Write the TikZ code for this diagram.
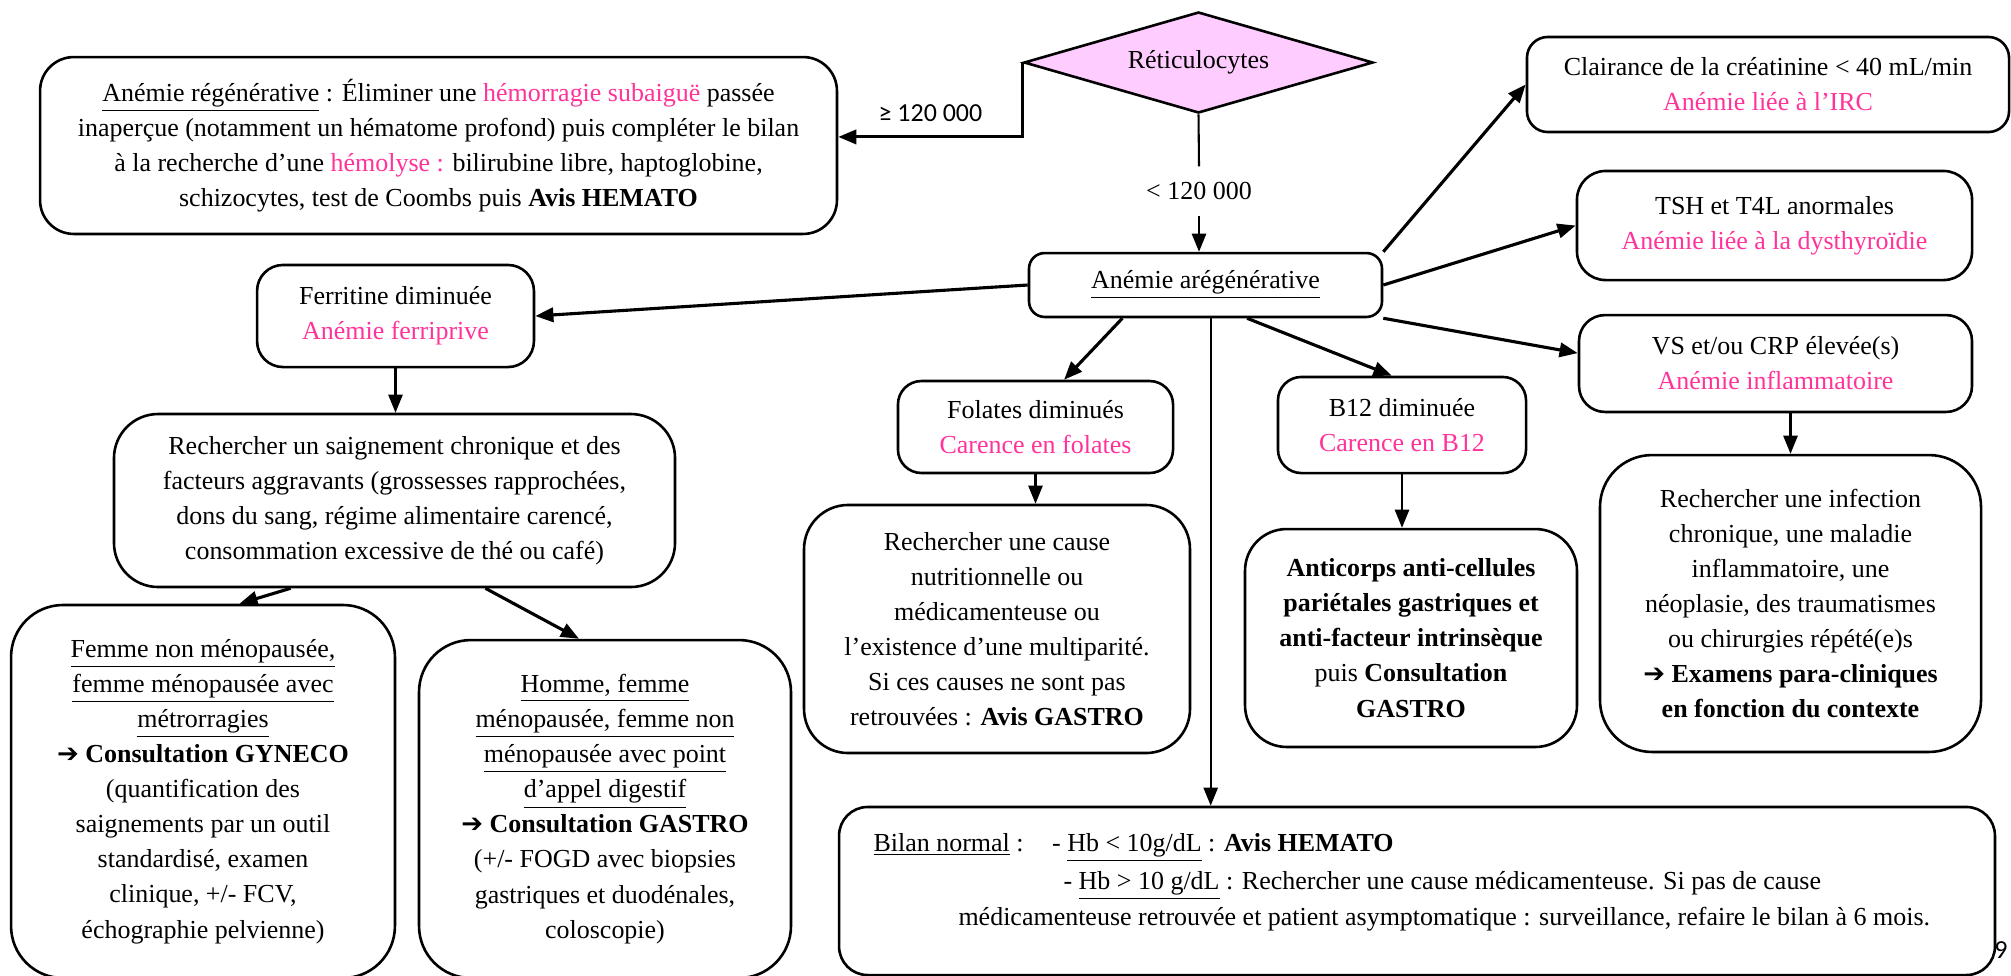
\documentclass[tikz,border=0pt]{standalone}
\usepackage{fontspec}
\setmainfont{Liberation Serif}
\newfontfamily\calibri{Carlito}
\newfontfamily\symboles{DejaVu Sans}
\usepackage{xcolor}
\usepackage{tikz}
\usetikzlibrary{arrows.meta,shapes.geometric}
\definecolor{rose}{RGB}{255,51,153}
\definecolor{mauve}{RGB}{255,204,255}
\newcommand{\rose}[1]{\textcolor{rose}{#1}}
\newcommand{\fl}{{\symboles\bfseries ➔}}

\begin{document}
\begin{tikzpicture}
[
x=0.385pt, y=-0.385pt,
font=\fontsize{10}{13.5}\selectfont,
boite/.style={rectangle, draw=black, line width=1pt, align=center, inner sep=2pt},
losange/.style={diamond, draw=black, line width=1pt, fill=mauve, aspect=3.4, inner sep=1pt},
fleche/.style={-{Triangle[length=7pt,width=5.5pt]}, line width=1.2pt},
flechefine/.style={-{Triangle[length=7pt,width=5.5pt]}, line width=0.8pt},
trait/.style={line width=0.8pt}
]
\useasboundingbox (0,0) rectangle (2011,975);

%Nodes
\node[losange, minimum width=134.4pt, minimum height=38.9pt] (reti) at (1198.5,62.5) {Réticulocytes};
\node[inner sep=0pt, minimum height=18.5pt] (seuilBas) at (1199,191) {< 120 000};
\node[boite, rounded corners=13pt, minimum width=306.8pt, minimum height=68.1pt] (regen) at (438.5,145.5)
  {\underline{Anémie régénérative} : Éliminer une \rose{hémorragie subaiguë} passée\\
   inaperçue (notamment un hématome profond) puis compléter le bilan\\
   à la recherche d’une \rose{hémolyse :} bilirubine libre, haptoglobine,\\
   schizocytes, test de Coombs puis \textbf{Avis HEMATO}};
\node[boite, rounded corners=6pt, minimum width=135.9pt, minimum height=24.6pt] (arege) at (1205.5,285) {\underline{Anémie arégénérative}};

\node[boite, rounded corners=8pt, minimum width=185.6pt, minimum height=36.6pt] (irc) at (1768,84.5)
  {Clairance de la créatinine < 40 mL/min\\ \rose{Anémie liée à l’IRC}};
\node[boite, rounded corners=11pt, minimum width=152.1pt, minimum height=42pt] (tsh) at (1774.5,225.5)
  {TSH et T4L anormales\\ \rose{Anémie liée à la dysthyroïdie}};
\node[boite, rounded corners=10pt, minimum width=151.3pt, minimum height=37.3pt] (vs) at (1775.5,363.5)
  {VS et/ou CRP élevée(s)\\ \rose{Anémie inflammatoire}};
\node[boite, rounded corners=20pt, minimum width=146.7pt, minimum height=114.3pt] (vsrech) at (1790.5,603.5)
  {Rechercher une infection\\ chronique, une maladie\\ inflammatoire, une\\ néoplasie, des traumatismes\\
   ou chirurgies répété(e)s\\ \fl\ \textbf{Examens para-cliniques}\\ \textbf{en fonction du contexte}};

\node[boite, rounded corners=10pt, minimum width=106.6pt, minimum height=39.3pt] (ferritine) at (395.5,316)
  {Ferritine diminuée\\ \rose{Anémie ferriprive}};
\node[boite, rounded corners=17pt, minimum width=216pt, minimum height=66.6pt] (saign) at (394.5,500.5)
  {Rechercher un saignement chronique et des\\ facteurs aggravants (grossesses rapprochées,\\
   dons du sang, régime alimentaire carencé,\\ consommation excessive de thé ou café)};
\node[boite, rounded corners=20pt, minimum width=147.8pt, minimum height=143.6pt] (femme) at (203,791.5)
  {\underline{Femme non ménopausée,}\\ \underline{femme ménopausée avec}\\ \underline{métrorragies}\\
   \fl\ \textbf{Consultation GYNECO}\\ (quantification des\\ saignements par un outil\\
   standardisé, examen\\ clinique, +/- FCV,\\ échographie pelvienne)};
\node[boite, rounded corners=20pt, minimum width=143.2pt, minimum height=130.1pt] (homme) at (605,809)
  {\underline{Homme, femme}\\ \underline{ménopausée, femme non}\\ \underline{ménopausée avec point}\\
   \underline{d’appel digestif}\\ \fl\ \textbf{Consultation GASTRO}\\ (+/- FOGD avec biopsies\\
   gastriques et duodénales,\\ coloscopie)};

\node[boite, rounded corners=9pt, minimum width=105.9pt, minimum height=35.4pt] (folates) at (1035.5,427)
  {Folates diminués\\ \rose{Carence en folates}};
\node[boite, rounded corners=17pt, minimum width=148.6pt, minimum height=95.5pt] (folrech) at (997,629)
  {Rechercher une cause\\ nutritionnelle ou\\ médicamenteuse ou\\ l’existence d’une multiparité.\\
   Si ces causes ne sont pas\\ retrouvées : \textbf{Avis GASTRO}};
\node[boite, rounded corners=9pt, minimum width=95.5pt, minimum height=37pt] (b12) at (1402,425)
  {B12 diminuée\\ \rose{Carence en B12}};
\node[boite, rounded corners=16pt, minimum width=127.8pt, minimum height=83.9pt] (anticorps) at (1411,638)
  {\textbf{Anticorps anti-cellules}\\ \textbf{pariétales gastriques et}\\ \textbf{anti-facteur intrinsèque}\\
   puis \textbf{Consultation}\\ \textbf{GASTRO}};

\node[boite, rounded corners=11pt, minimum width=445pt, minimum height=64.7pt] (bilan) at (1417,891) {};
\node[anchor=base west, inner sep=0pt] (bilanA) at (873,851)
  {\underline{Bilan normal}\ :\hspace{1.1em}- \underline{Hb < 10g/dL} : \textbf{Avis HEMATO}};
\node[anchor=base west, inner sep=0pt] (bilanB) at (1063,889)
  {- \underline{Hb > 10 g/dL} : Rechercher une cause médicamenteuse. Si pas de cause};
\node[anchor=base west, inner sep=0pt] (bilanC) at (958,925)
  {médicamenteuse retrouvée et patient asymptomatique : surveillance, refaire le bilan à 6 mois.};
\node[font=\calibri\fontsize{10}{12}\selectfont, inner sep=0pt] (page) at (2001,950) {9};

%Lines
\draw[fleche] (reti.west) |- node[pos=0.75, above=2pt, font=\calibri\fontsize{10}{12}\selectfont] (seuilHaut) {≥ 120 000} ([yshift=3.3pt]regen.east);
\draw[trait] (reti.south) -- (seuilBas.north);
\draw[flechefine] (seuilBas.south) -- (seuilBas.south |- arege.north);

\path[fleche]
(arege.north east)          edge (irc.west)
(arege.east)                edge (tsh.west)
(arege.south east)          edge ([yshift=4pt]vs.west)
([xshift=16pt]arege.south)  edge ([xshift=-4pt]b12.north)
([xshift=-32pt]arege.south) edge ([xshift=11pt]folates.north)
(arege.west)                edge (ferritine.east)
([xshift=-40pt]saign.south) edge ([xshift=14pt]femme.north)
([xshift=35pt]saign.south)  edge ([xshift=-10pt]homme.north);

\coordinate (pied) at ([xshift=2pt]arege.south);
\draw[flechefine] (pied) -- (pied |- bilan.north);
\draw[flechefine] (ferritine.south) -- (ferritine.south |- saign.north);
\draw[flechefine] (folates.south) -- (folates.south |- folrech.north);
\draw[flechefine] (b12.south) -- (b12.south |- anticorps.north);
\draw[flechefine] (vsrech.north |- vs.south) -- (vsrech.north);

\end{tikzpicture}
\end{document}
